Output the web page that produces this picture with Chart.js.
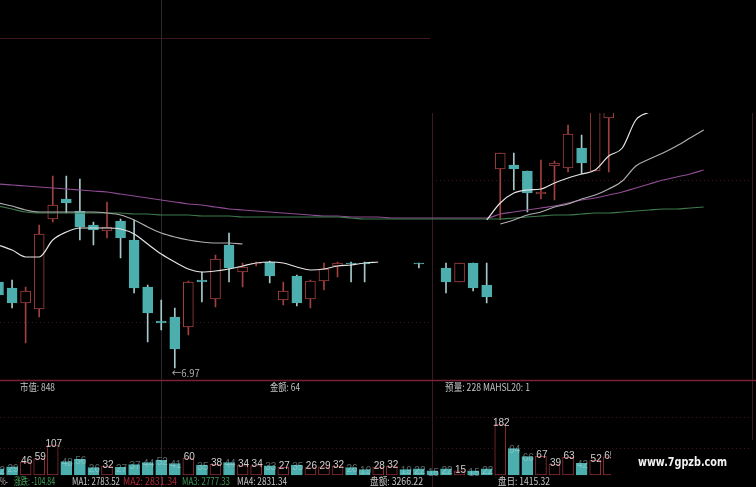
<!DOCTYPE html>
<html>
<head>
<meta charset="utf-8">
<script src="https://cdn.jsdelivr.net/npm/chart.js@4.4.0/dist/chart.umd.min.js"></script>
<style>
  html, body { margin: 0; padding: 0; background: #000; }
  #kChart { display: block; }
</style>
</head>
<body>
<canvas id="kChart" width="756" height="487"></canvas>
<script>
// 日K線 + 均線 + 成交量

// 交易日序號 (X 軸)
const days = [0, 1, 2, 3, 4, 5, 6, 7, 8, 9, 10, 11, 12, 13, 14, 15, 16, 17, 18, 19,
  20, 21, 22, 23, 24, 25, 26, 27, 28, 29, 30, 31, 32, 33, 34, 35, 36, 37, 38, 39,
  40, 41, 42, 43, 44, 45, 46, 47, 48, 49, 50, 51, 52];

const open = [7.83, 7.77, 7.62, 7.56, 8.46, 8.66, 8.54, 8.40, 8.34, 8.44,
  8.25, 7.78, 7.44, 7.48, 7.38, 7.85, 7.66, 8.20, 7.93, 8.01,
  8.03, 7.65, 7.89, 7.66, 7.84, 7.99, 8.02, 8.02, null, null,
  null, 8.02, null, 7.97, 7.83, 8.02, 7.80, 8.96, 9.00, 8.94,
  8.71, 8.99, 8.97, 9.17, 8.94, 9.47, null, null, null, null, null, null, null];
const high = [7.87, 7.85, 7.78, 8.40, 8.89, 8.89, 8.86, 8.43, 8.63, 8.46,
  8.45, 7.80, 7.65, 7.57, 7.84, 7.93, 8.10, 8.32, 8.02, 8.03,
  8.04, 7.83, 7.90, 7.85, 8.02, 8.03, 8.03, 8.03, null, null,
  null, 8.02, null, 8.02, 8.02, 8.02, 8.02, 9.12, 9.12, 8.94,
  9.05, 9.04, 9.40, 9.30, 9.70, 9.78, null, null, null, null, null, null, null];
const low = [7.65, 7.57, 7.22, 7.48, 8.43, 8.52, 8.25, 8.20, 8.27, 8.07,
  7.72, 7.23, 7.35, 6.97, 7.30, 7.63, 7.58, 7.83, 7.78, 7.99,
  7.82, 7.60, 7.59, 7.57, 7.75, 7.88, 7.83, 7.83, null, null,
  null, 7.97, null, 7.72, 7.83, 7.74, 7.62, 8.45, 8.75, 8.53,
  8.66, 8.65, 8.93, 8.91, 8.94, 8.93, null, null, null, null, null, null, null];
const close = [7.70, 7.62, 7.74, 8.31, 8.60, 8.62, 8.38, 8.35, 8.38, 8.27,
  7.77, 7.52, 7.42, 7.16, 7.83, 7.83, 8.06, 7.97, 7.98, 8.02,
  7.89, 7.74, 7.62, 7.84, 7.96, 8.02, 8.01, 8.01, null, null,
  null, 8.01, null, 7.83, 8.02, 7.77, 7.68, 9.12, 8.96, 8.72,
  8.73, 9.02, 9.31, 9.02, 9.62, 9.70, null, null, null, null, null, null, null];

// 1 = 收紅 (空心), 0 = 收綠 (實心)
const rise = [0, 0, 1, 1, 1, 0, 0, 0, 1, 0, 0, 0, 0, 0, 1, 0, 1, 0, 1, 1,
  0, 1, 0, 1, 1, 1, 0, 0, 1, 1, 0, 0, 0, 0, 1, 0, 0, 1, 0, 0,
  1, 1, 1, 0, 1, 1, null, null, null, null, null, null, null];

const volume = [22, 29, 46, 59, 107, 48, 56, 26, 32, 27,
  37, 44, 52, 41, 60, 35, 38, 44, 34, 34,
  33, 27, 35, 26, 29, 32, 26, 19, 28, 32,
  19, 22, 15, 22, 15, 15, 22, 182, 94, 66,
  67, 39, 63, 42, 52, 65, null, null, null, null, null, null, null];

const ma5 = [8.20, 8.15, 8.08, 8.08, 8.25, 8.33, 8.37, 8.37, 8.37, 8.36,
  8.31, 8.21, 8.11, 8.03, 7.96, 7.93, 7.94, 7.96, 7.99, 8.02,
  8.03, 8.02, 7.98, 7.95, 7.96, 7.99, 8.00, 8.02, 8.03, null,
  null, null, null, null, null, null, 8.45, 8.62, 8.72, 8.75,
  8.76, 8.82, 8.87, 8.91, 8.95, 9.09, 9.17, 9.45, 9.53, 9.61,
  null, null, null];
const ma10 = [8.62, 8.59, 8.55, 8.53, 8.53, 8.53, 8.53, 8.53, 8.52, 8.50,
  8.45, 8.38, 8.32, 8.28, 8.25, 8.23, 8.22, 8.22, 8.21, null,
  null, null, null, null, null, null, null, null, null, null,
  null, null, null, null, null, null, null, 8.41, 8.45, 8.50,
  8.53, 8.58, 8.61, 8.66, 8.70, 8.76, 8.84, 8.99, 9.06, 9.12,
  9.19, 9.27, 9.35];
const ma30 = [8.59, 8.56, 8.53, 8.52, 8.52, 8.52, 8.52, 8.52, 8.52, 8.52,
  8.51, 8.51, 8.50, 8.50, 8.50, 8.49, 8.49, 8.49, 8.48, 8.48,
  8.48, 8.48, 8.48, 8.48, 8.48, 8.48, 8.47, 8.46, 8.46, 8.46,
  8.46, 8.46, 8.46, 8.46, 8.46, 8.46, 8.46, 8.46, 8.47, 8.48,
  8.49, 8.50, 8.50, 8.51, 8.52, 8.52, 8.53, 8.54, 8.55, 8.56,
  8.56, 8.57, 8.58];
const ma60 = [8.81, 8.80, 8.79, 8.78, 8.77, 8.76, 8.75, 8.74, 8.73, 8.71,
  8.69, 8.67, 8.65, 8.63, 8.61, 8.60, 8.58, 8.56, 8.55, 8.54,
  8.53, 8.52, 8.51, 8.50, 8.49, 8.49, 8.48, 8.48, 8.48, 8.47,
  8.47, 8.47, 8.47, 8.47, 8.47, 8.47, 8.47, 8.51, 8.53, 8.55,
  8.57, 8.59, 8.62, 8.65, 8.67, 8.70, 8.73, 8.77, 8.81, 8.85,
  8.88, 8.91, 8.95];

const lowMarkIndex = 13; // 最低價標記

const RED = "#a2403f";
const CYAN = "#4daeae";
const CYAN_WICK = "#a6c8c8";
const VOL_RED = "#8e2c36";

const wickData = [];
const wickColors = [];
const bodyData = [];
const bodyFill = [];
const bodyBorder = [];
const volData = [];
const volFill = [];
const volBorder = [];

days.forEach((d, i) => {
  if (open[i] !== null) {
    wickData.push({ x: d, y: [low[i], high[i]] });
    wickColors.push(rise[i] ? RED : CYAN_WICK);
    bodyData.push({ x: d, y: [Math.min(open[i], close[i]), Math.max(open[i], close[i])] });
    bodyFill.push(rise[i] ? "#000" : CYAN);
    bodyBorder.push(rise[i] ? RED : CYAN);
  }
  if (volume[i] !== null) {
    volData.push({ x: d, y: [0, volume[i]] });
    volFill.push(rise[i] ? "#000" : CYAN);
    volBorder.push(rise[i] ? VOL_RED : CYAN);
  }
});

function maLine(values, color) {
  return {
    type: "line",
    data: days.map((d, i) => ({ x: d, y: values[i] })),
    borderColor: color,
    borderWidth: 1.2,
    pointRadius: 0,
    cubicInterpolationMode: "monotone",
    spanGaps: false,
    yAxisID: "y",
    order: 0,
  };
}

function line(ctx, x1, y1, x2, y2) {
  ctx.beginPath();
  ctx.moveTo(x1, y1);
  ctx.lineTo(x2, y2);
  ctx.stroke();
}

function label(ctx, str, x, y, color, width) {
  ctx.fillStyle = color;
  ctx.fillText(str, x, y, width);
}

const FONT = '10px "Noto Sans CJK SC", "Liberation Sans", sans-serif';

const panelPlugin = {
  id: "panelPlugin",
  beforeDraw(chart) {
    const ctx = chart.ctx;
    ctx.save();
    ctx.fillStyle = "#000";
    ctx.fillRect(0, 0, chart.width, chart.height);
    ctx.lineWidth = 1;
    ctx.strokeStyle = "#3b161c";
    line(ctx, 0, 38.5, 430, 38.5);
    ctx.strokeStyle = "#2b2b2f";
    line(ctx, 161.5, 0, 161.5, 487);
    ctx.strokeStyle = "#3a1a20";
    line(ctx, 432.5, 113, 432.5, 487);
    line(ctx, 752.5, 113, 752.5, 440);
    ctx.setLineDash([1, 3]);
    ctx.strokeStyle = "#3a1a1e";
    line(ctx, 0, 322.5, 430, 322.5);
    line(ctx, 432, 180.5, 752, 180.5);
    line(ctx, 0, 417.5, 752, 417.5);
    line(ctx, 0, 448.5, 752, 448.5);
    ctx.setLineDash([]);
    ctx.strokeStyle = "#7a2336";
    ctx.lineWidth = 1.5;
    line(ctx, 0, 380.5, 756, 380.5);
    ctx.restore();
  },
  beforeDatasetsDraw(chart) {
    // 右側視窗上方被裁切
    const ctx = chart.ctx;
    ctx.save();
    ctx.beginPath();
    ctx.rect(0, 0, 432, chart.height);
    ctx.rect(432, 113, chart.width - 432, 380 - 113);
    ctx.rect(432, 380, 611 - 432, chart.height - 380);
    ctx.clip();
  },
  afterDatasetsDraw(chart) {
    const ctx = chart.ctx;
    const xs = chart.scales.x;
    const yv = chart.scales.yv;
    ctx.font = '10px "Liberation Sans", sans-serif';
    ctx.textAlign = "center";
    ctx.textBaseline = "middle";
    days.forEach((d, i) => {
      if (volume[i] === null) return;
      ctx.fillStyle = rise[i] ? "#cfcfcf" : "rgba(190, 225, 225, 0.45)";
      ctx.fillText(String(volume[i]), xs.getPixelForValue(d) + 1, yv.getPixelForValue(volume[i]) + (rise[i] ? -1 : 2));
    });
    ctx.restore();
  },
  afterDraw(chart) {
    const ctx = chart.ctx;
    const xs = chart.scales.x;
    const ys = chart.scales.y;
    ctx.save();
    ctx.textBaseline = "middle";
    ctx.textAlign = "left";
    ctx.font = FONT;
    // 最低價
    label(ctx, "←" + low[lowMarkIndex].toFixed(2), xs.getPixelForValue(lowMarkIndex) - 3,
      ys.getPixelForValue(low[lowMarkIndex]) + 5, "#b0b0b0", 28);
    // 資訊列
    label(ctx, "市值: 848", 20, 387, "#c4c4c4", 35);
    label(ctx, "金额: 64", 270, 387, "#c4c4c4", 30);
    label(ctx, "预量: 228 MAHSL20: 1", 445, 387, "#c4c4c4", 85);
    label(ctx, "%-", 0, 481, "#b0b0b0", 8);
    label(ctx, "涨跌: -104.84", 14, 481, "#48a85e", 41);
    label(ctx, "MA1: 2783.52", 72, 481, "#c8c8c8", 48);
    label(ctx, "MA2: 2831.34", 123, 481, "#b02a3a", 54);
    label(ctx, "MA3: 2777.33", 182, 481, "#3f9a55", 48);
    label(ctx, "MA4: 2831.34", 237, 481, "#c8c8c8", 50);
    label(ctx, "盘额: 3266.22", 370, 481, "#c8c8c8", 53);
    label(ctx, "盘日: 1415.32", 498, 481, "#c8c8c8", 52);
    ctx.font = 'bold 13px "DejaVu Sans", sans-serif';
    label(ctx, "www.7gpzb.com", 638, 463, "#f2f2f2", 89);
    ctx.restore();
  },
};

const config = {
  type: "bar",
  data: {
    datasets: [
      maLine(ma5, "#e4e4e4"),
      maLine(ma10, "#aeaeae"),
      maLine(ma30, "#3d7a4c"),
      maLine(ma60, "#8e4c92"),
      {
        data: bodyData,
        backgroundColor: bodyFill,
        borderColor: bodyBorder,
        borderWidth: 1,
        borderSkipped: false,
        barThickness: 10,
        grouped: false,
        yAxisID: "y",
        order: 1,
      },
      {
        data: wickData,
        backgroundColor: wickColors,
        barThickness: 1,
        grouped: false,
        yAxisID: "y",
        order: 2,
      },
      {
        data: volData,
        backgroundColor: volFill,
        borderColor: volBorder,
        borderWidth: 1,
        borderSkipped: false,
        barThickness: 11,
        grouped: false,
        yAxisID: "yv",
        order: 3,
      },
    ],
  },
  options: {
    responsive: false,
    animation: false,
    layout: { padding: 0 },
    plugins: { legend: { display: false }, tooltip: { enabled: false } },
    scales: {
      x: { type: "linear", min: 0.11, max: 55.86, offset: false, display: false },
      y: { min: 5.78, max: 10.65, display: false },
      yv: { min: -42.9, max: 1696, display: false },
    },
  },
  plugins: [panelPlugin],
};

const kChart = new Chart(document.querySelector("#kChart"), config);
</script>
</body>
</html>
